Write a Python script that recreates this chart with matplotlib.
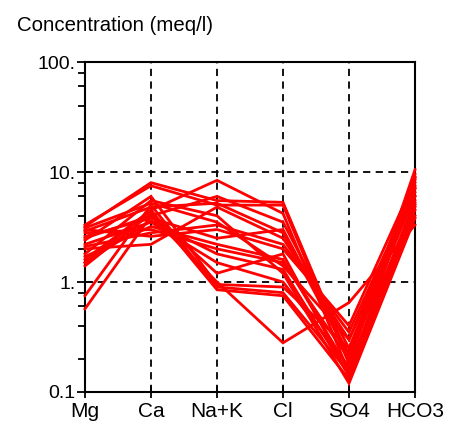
import matplotlib
matplotlib.use("Agg")
import matplotlib.pyplot as plt
from matplotlib.ticker import FixedLocator, NullFormatter

ions = ["Mg", "Ca", "Na+K", "Cl", "SO4", "HCO3"]
mg   = [3.2, 3.3, 1.5, 2.5, 0.57, 0.75, 2.0, 2.8, 1.6, 2.2, 3.0, 1.8, 2.6, 1.4, 3.1, 2.4, 1.7, 2.9, 2.1, 1.5]
ca   = [8.0, 7.5, 4.5, 4.0, 4.0, 5.0, 2.2, 3.0, 4.5, 3.5, 2.6, 5.5, 3.8, 4.2, 5.2, 6.0, 3.2, 4.8, 2.8, 3.6]
nak  = [5.5, 5.0, 8.4, 6.0, 1.0, 0.9, 4.8, 2.0, 0.85, 1.5, 3.0, 4.0, 2.5, 1.2, 3.5, 0.95, 2.2, 5.2, 3.3, 1.8]
cl   = [5.3, 5.0, 4.2, 3.5, 0.28, 0.8, 2.5, 1.5, 0.75, 1.0, 2.0, 1.2, 3.0, 1.8, 1.4, 0.9, 1.6, 2.8, 2.2, 1.3]
so4  = [0.2, 0.18, 0.15, 0.25, 0.65, 0.15, 0.3, 0.2, 0.13, 0.17, 0.4, 0.12, 0.22, 0.14, 0.3, 0.25, 0.16, 0.21, 0.35, 0.14]
hco3 = [9.0, 10.5, 8.0, 7.0, 3.3, 5.0, 6.0, 6.5, 4.5, 5.5, 8.5, 3.8, 9.5, 4.0, 7.5, 6.0, 5.2, 8.8, 7.2, 4.8]
yticks = [0.1, 1, 10, 100]
ylabels = ["0.1", "1.", "10.", "100."]

fig = plt.figure(figsize=(4.5, 4.32), dpi=100)
ax = fig.add_axes([85/450, 1-392/432, 330/450, 330/432])
x = list(range(len(ions)))
for i in range(len(mg)):
    vals = [mg[i], ca[i], nak[i], cl[i], so4[i], hco3[i]]
    ax.plot(x, vals, color="#ff0000", lw=2.0, solid_joinstyle="miter", zorder=3, clip_on=False)

ax.set_yscale("log")
ax.set_ylim(0.1, 100)
ax.set_xlim(0, len(ions)-1)
ax.set_xticks(x)
ax.set_xticklabels(ions, fontsize=15, family="Liberation Sans")
ax.yaxis.set_major_locator(FixedLocator(yticks))
ax.set_yticklabels(ylabels, fontsize=14, family="Liberation Sans")
minors = [m*d for d in [0.1, 1, 10] for m in [2, 4, 6, 8]]
ax.yaxis.set_minor_locator(FixedLocator(minors))
ax.yaxis.set_minor_formatter(NullFormatter())
ax.tick_params(axis="y", which="major", direction="inout", length=12, width=1.3, pad=1)
ax.tick_params(axis="y", which="minor", direction="out", length=5, width=1.3)
ax.tick_params(axis="x", which="major", direction="inout", length=9, width=1.3, pad=3)
for s in ax.spines.values():
    s.set_linewidth(1.5)
for xv in x[1:-1]:
    ax.axvline(xv, color="black", lw=1.3, ls=(0, (4, 3)), zorder=1)
for yv in [1, 10]:
    ax.axhline(yv, color="black", lw=1.3, ls=(0, (4, 3)), zorder=1)

fig.text(17/450, 1-31/432, "Concentration (meq/l)", fontsize=14.7, family="Liberation Sans")
fig.savefig("out.png", dpi=100)
